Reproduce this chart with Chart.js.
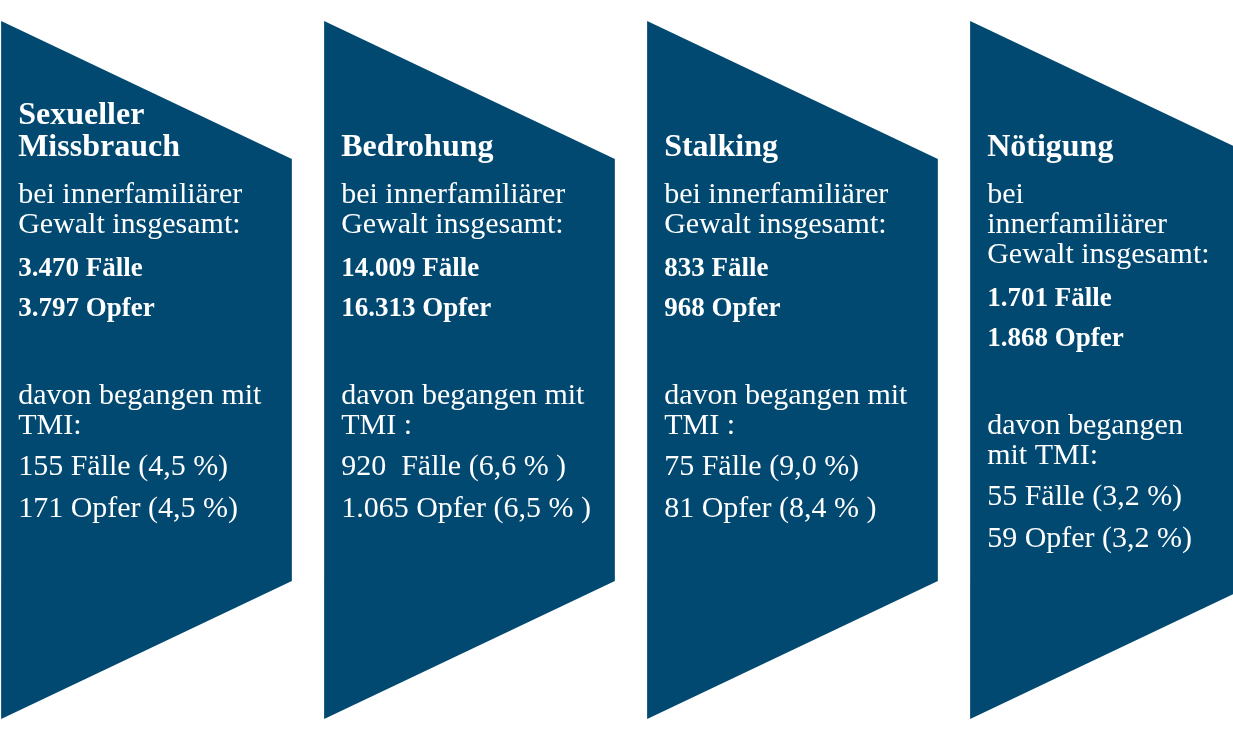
<!DOCTYPE html>
<html lang="de">
<head>
<meta charset="utf-8">
<script src="https://cdn.jsdelivr.net/npm/chart.js@4.4.1/dist/chart.umd.min.js"></script>
<style>
  html, body { margin: 0; padding: 0; background: #fff; overflow: hidden; }
  body { width: 1233px; height: 729px; position: relative; }
  #wrap { position: absolute; left: -15px; top: 0; width: 1292px; height: 729px; }
</style>
</head>
<body>
<div id="wrap"><canvas id="chart"></canvas></div>
<script>
// Data
const categories = ['Sexueller Missbrauch', 'Bedrohung', 'Stalking', 'Nötigung'];
const titleLines = [['Sexueller', 'Missbrauch'], ['Bedrohung'], ['Stalking'], ['Nötigung']];
const introLines = [
  ['bei innerfamiliärer', 'Gewalt insgesamt:'],
  ['bei innerfamiliärer', 'Gewalt insgesamt:'],
  ['bei innerfamiliärer', 'Gewalt insgesamt:'],
  ['bei', 'innerfamiliärer', 'Gewalt insgesamt:']
];
const tmiLines = [
  ['davon begangen mit', 'TMI:'],
  ['davon begangen mit', 'TMI :'],
  ['davon begangen mit', 'TMI :'],
  ['davon begangen', 'mit TMI:']
];
const faelle = [3470, 14009, 833, 1701];
const opfer = [3797, 16313, 968, 1868];
const tmiFaelle = [155, 920, 75, 55];
const tmiOpfer = [171, 1065, 81, 59];
const tmiFaellePct = [4.5, 6.6, 9.0, 3.2];
const tmiOpferPct = [4.5, 6.5, 8.4, 3.2];

const COLOR = '#024971';
const FONT = '"Liberation Serif", "Times New Roman", serif';

const fmt = n => String(n).replace(/\B(?=(\d{3})+(?!\d))/g, '.');
const pct = v => v.toFixed(1).replace('.', ',');
// small spacing quirks of the original labels
const gapF = [' ', '  ', ' ', ' '];
const closeF = [' %)', ' % )', ' %)', ' %)'];
const closeO = [' %)', ' % )', ' % )', ' %)'];

const chevronPlugin = {
  id: 'chevrons',
  afterDraw(chart) {
    const { ctx, scales: { x }, chartArea } = chart;
    const step = x.width / categories.length;
    const half = step * 0.45;
    const top = chartArea.top;
    categories.forEach((cat, i) => {
      const cx = x.getPixelForValue(i);
      const l = cx - half, r = cx + half;

      ctx.save();
      ctx.fillStyle = COLOR;
      ctx.beginPath();
      ctx.moveTo(l, top + 21);
      ctx.lineTo(r, top + 159);
      ctx.lineTo(r, top + 581);
      ctx.lineTo(l, top + 719);
      ctx.closePath();
      ctx.fill();

      ctx.fillStyle = '#fff';
      ctx.textAlign = 'left';
      ctx.textBaseline = 'alphabetic';
      const tx = l + 17;

      // title, last line sits on a fixed baseline
      ctx.font = `bold 32px ${FONT}`;
      const tl = titleLines[i];
      tl.forEach((t, k) => ctx.fillText(t, tx, top + 156 - (tl.length - 1 - k) * 32));

      let y = top + 203;
      ctx.font = `30px ${FONT}`;
      introLines[i].forEach((t, k) => { if (k) y += 30; ctx.fillText(t, tx, y); });

      ctx.font = `bold 27px ${FONT}`;
      y += 43;
      ctx.fillText(`${fmt(faelle[i])} Fälle`, tx, y);
      y += 40;
      ctx.fillText(`${fmt(opfer[i])} Opfer`, tx, y);

      ctx.font = `30px ${FONT}`;
      y += 88;
      tmiLines[i].forEach((t, k) => { if (k) y += 30; ctx.fillText(t, tx, y); });
      y += 41;
      ctx.fillText(`${fmt(tmiFaelle[i])}${gapF[i]}Fälle (${pct(tmiFaellePct[i])}${closeF[i]}`, tx, y);
      y += 42;
      ctx.fillText(`${fmt(tmiOpfer[i])} Opfer (${pct(tmiOpferPct[i])}${closeO[i]}`, tx, y);
      ctx.restore();
    });
  }
};

new Chart(document.getElementById('chart'), {
  type: 'bar',
  data: { labels: categories, datasets: [] },
  options: {
    responsive: true,
    maintainAspectRatio: false,
    animation: false,
    layout: { padding: 0 },
    scales: {
      x: { display: false, offset: true },
      y: { display: false }
    },
    plugins: { legend: { display: false }, tooltip: { enabled: false } }
  },
  plugins: [chevronPlugin]
});
</script>
</body>
</html>
